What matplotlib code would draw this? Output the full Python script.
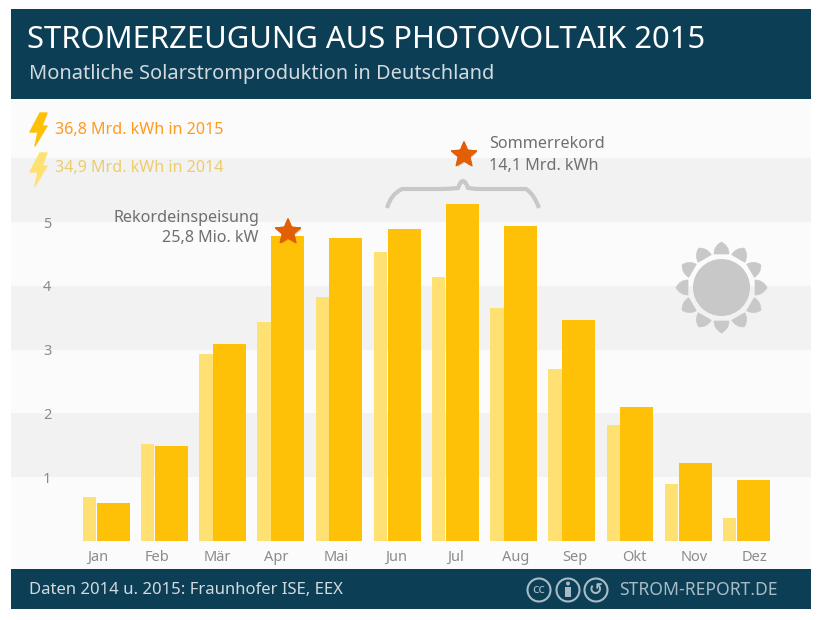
#!/usr/bin/env python3
"""Monthly solar power output in Germany, 2014 vs 2015."""

import numpy as np
import matplotlib

matplotlib.use("Agg")
import matplotlib.pyplot as plt
import matplotlib.patheffects as pe
from matplotlib.patches import Circle, PathPatch, Polygon, Rectangle
from matplotlib.path import Path

months = ["Jan", "Feb", "Mär", "Apr", "Mai", "Jun", "Jul", "Aug", "Sep", "Okt", "Nov", "Dez"]
values_2014 = [0.69, 1.52, 2.93, 3.43, 3.82, 4.53, 4.14, 3.65, 2.70, 1.82, 0.89, 0.36]
values_2015 = [0.60, 1.49, 3.09, 4.78, 4.75, 4.89, 5.28, 4.94, 3.46, 2.10, 1.22, 0.96]
y_ticks = [1, 2, 3, 4, 5]
band_edges = [(1, 2), (3, 4), (5, 6)]

W, H = 821, 620
NAVY = "#0c3f56"
GOLD = "#ffc107"
PALE = "#ffe072"
GREY = "#c8c8c8"
TEXT = "#6f6f6f"
FONT = "Noto Sans"

plt.rcParams["font.family"] = [FONT, "DejaVu Sans"]
fig = plt.figure(figsize=(W / 100, H / 100), dpi=100, facecolor="white")

# chart axes covers the panel between header and footer, origin on the baseline
PX_X0, PX_X1, PX_TOP, PX_BOTTOM = 11, 811, 99, 569
PX_BASE, PX_UNIT = 541, 63.8
PITCH, FIRST = 58.2, 105.5
ax = fig.add_axes([PX_X0 / W, 1 - PX_BOTTOM / H, (PX_X1 - PX_X0) / W, (PX_BOTTOM - PX_TOP) / H])
ax.set_facecolor("#fbfbfb")
ax.set_xlim((PX_X0 - FIRST) / PITCH, (PX_X1 - FIRST) / PITCH)
ax.set_ylim((PX_BASE - PX_BOTTOM) / PX_UNIT, (PX_BASE - PX_TOP) / PX_UNIT)
for low, high in band_edges:
    ax.axhspan(low, high, color="#f2f2f3", lw=0, zorder=0)

x = np.arange(len(months))
ax.bar(x - 16 / PITCH, values_2014, width=13.4 / PITCH, color=PALE, zorder=2)
ax.bar(x + 7.5 / PITCH, values_2015, width=33 / PITCH, color=GOLD, zorder=3)

for spine in ax.spines.values():
    spine.set_visible(False)
# month labels run on a slightly wider pitch than the bars
ax.set_xticks(x * 59.7 / PITCH - 8 / PITCH)
ax.set_xticklabels(months, fontsize=10.5, color="#8b8b8b")
ax.tick_params(axis="x", length=0, pad=0, direction="in")
for lab in ax.get_xticklabels():
    lab.set_y(0)
    lab.set_transform(ax.get_xaxis_transform())
    lab.set_verticalalignment("center")
    lab.set_position((lab.get_position()[0], 0.0255))
ax.set_yticks(y_ticks)
ax.set_yticklabels([str(v) for v in y_ticks], fontsize=10.5, color="#8b8b8b")
ax.tick_params(axis="y", length=0, direction="in", pad=-26)
for lab in ax.get_yticklabels():
    lab.set_horizontalalignment("center")

# overlay in pixel coordinates for header, footer and decorations
ov = fig.add_axes([0, 0, 1, 1], facecolor="none")
ov.set_xlim(0, W)
ov.set_ylim(H, 0)
ov.axis("off")

ov.add_patch(Rectangle((11, 9), 800, 90, color=NAVY, lw=0))
ov.add_patch(Rectangle((11, 569), 800, 40, color=NAVY, lw=0))
ov.text(27, 40, "STROMERZEUGUNG AUS PHOTOVOLTAIK 2015", fontsize=22.3, color="white",
        fontweight="medium", va="center", ha="left")
ov.text(29, 74, "Monatliche Solarstromproduktion in Deutschland", fontsize=14.4, color="#d3dade",
        va="center", ha="left")
ov.text(29, 590, "Daten 2014 u. 2015: Fraunhofer ISE, EEX", fontsize=12, color="#d3dade",
        va="center", ha="left")
ov.text(619, 590, "STROM-REPORT.DE", fontsize=12.6, color="#a9bcc6", fontweight="medium",
        va="center", ha="left")


def bolt(dx, dy, color):
    pts = [(40, 113), (47, 113), (42, 126), (47, 126), (35, 146), (38, 132), (30, 132)]
    ov.add_patch(Polygon([(a + dx, b + dy) for a, b in pts], closed=True, fc=color, ec=color,
                         lw=1, joinstyle="round"))


bolt(0, 0, GOLD)
bolt(0, 40, PALE)
ov.text(55, 129.5, "36,8 Mrd. kWh in 2015", fontsize=11.6, color="#ff9b1f", va="center", ha="left")
ov.text(55, 168, "34,9 Mrd. kWh in 2014", fontsize=11.6, color="#eccd6c", va="center", ha="left")

ov.text(259, 218, "Rekordeinspeisung", fontsize=11.6, color=TEXT, va="center", ha="right")
ov.text(259, 238, "25,8 Mio. kW", fontsize=11.6, color=TEXT, va="center", ha="right")
ov.text(489, 144, "Sommerrekord", fontsize=11.6, color=TEXT, va="center", ha="left")
ov.text(489, 166, "14,1 Mrd. kWh", fontsize=11.6, color=TEXT, va="center", ha="left")


def star(cx, cy, r=13):
    angles = np.deg2rad(-90 + 36 * np.arange(10))
    radii = np.where(np.arange(10) % 2 == 0, r, r * 0.45)
    pts = np.column_stack([cx + radii * np.cos(angles), cy + radii * np.sin(angles)])
    patch = Polygon(pts, closed=True, fc="#e35f06", ec="#e35f06", lw=1, joinstyle="round")
    patch.set_path_effects([pe.withSimplePatchShadow(offset=(1, -1), alpha=0.2), pe.Normal()])
    ov.add_patch(patch)


star(288, 232)
star(464, 155)

# curly brace over the summer months
brace = Path(
    [(387, 208), (391, 194), (402, 189), (418, 189), (432, 189), (440, 189), (449, 189),
     (458, 188), (463, 174), (468, 188), (477, 189), (486, 189), (500, 189), (510, 189),
     (526, 189), (534, 194), (539, 208)],
    [Path.MOVETO] + [Path.CURVE3] * 4 + [Path.LINETO] + [Path.CURVE3] * 4 + [Path.LINETO]
    + [Path.CURVE3] * 6,
)
ov.add_patch(PathPatch(brace, fc="none", ec=GREY, lw=3, capstyle="butt"))

# sun with twelve rounded rays
SUN_X, SUN_Y = 721.5, 287.5
ov.add_patch(Circle((SUN_X, SUN_Y), 28.5, fc=GREY, ec="none"))
for deg in np.arange(0, 360, 30):
    a = np.deg2rad(deg)
    ux, uy = np.cos(a), np.sin(a)
    px, py = -uy, ux
    r0, r1 = 33.5, 45.5
    spread = 7.5
    base_l = (SUN_X + r0 * ux + spread * px, SUN_Y + r0 * uy + spread * py)
    base_r = (SUN_X + r0 * ux - spread * px, SUN_Y + r0 * uy - spread * py)
    tip = (SUN_X + r1 * ux, SUN_Y + r1 * uy)
    ctrl_l = (SUN_X + (r0 + 8) * ux + spread * px, SUN_Y + (r0 + 8) * uy + spread * py)
    ctrl_r = (SUN_X + (r0 + 8) * ux - spread * px, SUN_Y + (r0 + 8) * uy - spread * py)
    ray = Path([base_l, ctrl_l, tip, ctrl_r, base_r, base_l],
               [Path.MOVETO, Path.CURVE3, Path.CURVE3, Path.CURVE3, Path.CURVE3, Path.CLOSEPOLY])
    ov.add_patch(PathPatch(ray, fc=GREY, ec=GREY, lw=0.5, joinstyle="round"))

# licence badges in the footer
BADGE = "#a9bcc6"
for cx in (539, 568, 596):
    ov.add_patch(Circle((cx, 590), 11.5, fc="none", ec=BADGE, lw=1.5))
ov.text(539, 589.5, "cc", fontsize=9.5, color=BADGE, fontweight="bold", va="center", ha="center")
ov.add_patch(Circle((568, 583.5), 2, fc=BADGE, ec="none"))
ov.add_patch(Rectangle((565, 587), 6, 10, fc=BADGE, ec="none"))
ov.text(596, 589.5, "↺", fontsize=12, color=BADGE, fontweight="bold", va="center", ha="center",
        family="DejaVu Sans")

fig.savefig("out.png", dpi=100, facecolor="white")
